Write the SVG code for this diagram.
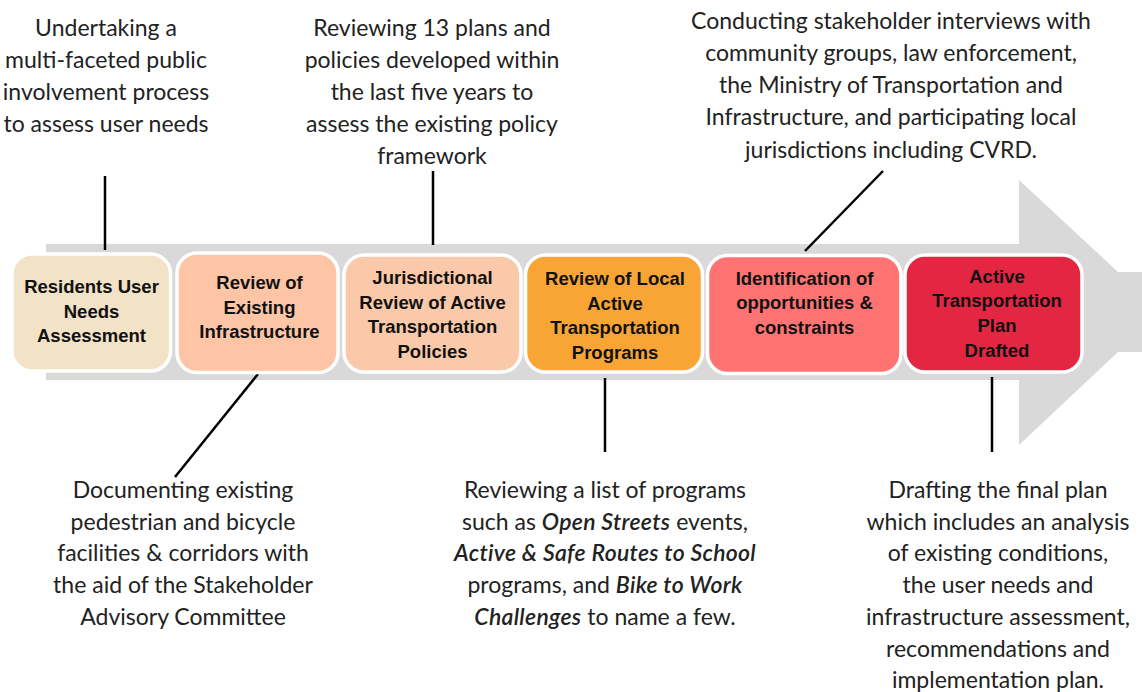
<svg xmlns="http://www.w3.org/2000/svg" width="1142" height="692" viewBox="0 0 1142 692">
<style>
.box{stroke:#fff;stroke-width:3.5}
.bl{font-family:"Liberation Sans",Arial,sans-serif;font-weight:bold;font-size:18.5px;fill:#111;text-anchor:middle}
.nt{font-family:Lato,"Open Sans",sans-serif;font-size:23px;fill:#222;text-anchor:middle}
.it{font-style:italic;font-weight:600;letter-spacing:0.3px}
.con{stroke:#000;stroke-width:2.5;fill:none}
</style>
<rect width="1142" height="692" fill="#fff"/>
<g id="arrow">
<polygon points="46,244 1019,244 1019,180 1118,272 1142,272 1142,352 1118,352 1019,445 1019,380 46,380" fill="#d9d9d9"/>
</g>
<g id="connectors">
<line class="con" x1="105" y1="176" x2="105" y2="250"/>
<line class="con" x1="433" y1="171" x2="433" y2="245"/>
<line class="con" x1="883" y1="171" x2="805" y2="251"/>
<line class="con" x1="258" y1="374" x2="175" y2="477"/>
<line class="con" x1="605" y1="378" x2="605" y2="452"/>
<line class="con" x1="992" y1="377" x2="992" y2="452"/>
</g>
<g id="node-residents">
<rect class="box" x="12" y="254" width="158.5" height="117" rx="20" fill="#f2e2c6"/>
<text class="bl"><tspan x="91.5" y="293">Residents User</tspan><tspan x="91.5" y="317.7">Needs</tspan><tspan x="91.5" y="342.3">Assessment</tspan></text>
</g>
<g id="node-infrastructure">
<rect class="box" x="177" y="253" width="161" height="119.5" rx="20" fill="#fdc5a5"/>
<text class="bl"><tspan x="259.5" y="289">Review of</tspan><tspan x="259.5" y="313.5">Existing</tspan><tspan x="259.5" y="338">Infrastructure</tspan></text>
</g>
<g id="node-policies">
<rect class="box" x="344" y="255" width="177" height="117" rx="20" fill="#fac9a9"/>
<text class="bl"><tspan x="432.5" y="284.3">Jurisdictional</tspan><tspan x="432.5" y="308.7">Review of Active</tspan><tspan x="432.5" y="333.3">Transportation</tspan><tspan x="432.5" y="358">Policies</tspan></text>
</g>
<g id="node-programs">
<rect class="box" x="525.5" y="255" width="177" height="117" rx="20" fill="#f8a535"/>
<text class="bl"><tspan x="615" y="285">Review of Local</tspan><tspan x="615" y="309.7">Active</tspan><tspan x="615" y="334.4">Transportation</tspan><tspan x="615" y="359">Programs</tspan></text>
</g>
<g id="node-opportunities">
<rect class="box" x="707.5" y="255.5" width="193.5" height="118" rx="20" fill="#ff7373"/>
<text class="bl"><tspan x="804.5" y="285">Identification of</tspan><tspan x="804.5" y="309.3">opportunities &amp;</tspan><tspan x="804.5" y="333.5">constraints</tspan></text>
</g>
<g id="node-plan">
<rect class="box" x="905" y="255" width="177" height="117" rx="20" fill="#e32642"/>
<text class="bl"><tspan x="997" y="282.7">Active</tspan><tspan x="997" y="306.7">Transportation</tspan><tspan x="997" y="331.5">Plan</tspan><tspan x="997" y="356.5">Drafted</tspan></text>
</g>
<g id="note-public">
<text class="nt"><tspan x="106" y="36">Undertaking a</tspan><tspan x="106" y="68">multi-faceted public</tspan><tspan x="106" y="100">involvement process</tspan><tspan x="106" y="132">to assess user needs</tspan></text>
</g>
<g id="note-plans">
<text class="nt"><tspan x="432" y="36">Reviewing 13 plans and</tspan><tspan x="432" y="68">policies developed within</tspan><tspan x="432" y="100">the last five years to</tspan><tspan x="432" y="132">assess the existing policy</tspan><tspan x="432" y="164">framework</tspan></text>
</g>
<g id="note-interviews">
<text class="nt"><tspan x="891" y="29">Conducting stakeholder interviews with</tspan><tspan x="891" y="61">community groups, law enforcement,</tspan><tspan x="891" y="93">the Ministry of Transportation and</tspan><tspan x="891" y="125">Infrastructure, and participating local</tspan><tspan x="891" y="158">jurisdictions including CVRD.</tspan></text>
</g>
<g id="note-documenting">
<text class="nt"><tspan x="183" y="498">Documenting existing</tspan><tspan x="183" y="529.5">pedestrian and bicycle</tspan><tspan x="183" y="561">facilities &amp; corridors with</tspan><tspan x="183" y="593">the aid of the Stakeholder</tspan><tspan x="183" y="625">Advisory Committee</tspan></text>
</g>
<g id="note-programs">
<text class="nt"><tspan x="605" y="498">Reviewing a list of programs</tspan><tspan x="605" y="529.5">such as <tspan class="it">Open Streets</tspan> events,</tspan><tspan x="605" y="561" class="it">Active &amp; Safe Routes to School</tspan><tspan x="605" y="593">programs, and <tspan class="it">Bike to Work</tspan></tspan><tspan x="605" y="625"><tspan class="it">Challenges</tspan> to name a few.</tspan></text>
</g>
<g id="note-drafting">
<text class="nt"><tspan x="998" y="498">Drafting the final plan</tspan><tspan x="998" y="529.5">which includes an analysis</tspan><tspan x="998" y="561">of existing conditions,</tspan><tspan x="998" y="593">the user needs and</tspan><tspan x="998" y="625">infrastructure assessment,</tspan><tspan x="998" y="656.5">recommendations and</tspan><tspan x="998" y="688">implementation plan.</tspan></text>
</g>
</svg>
